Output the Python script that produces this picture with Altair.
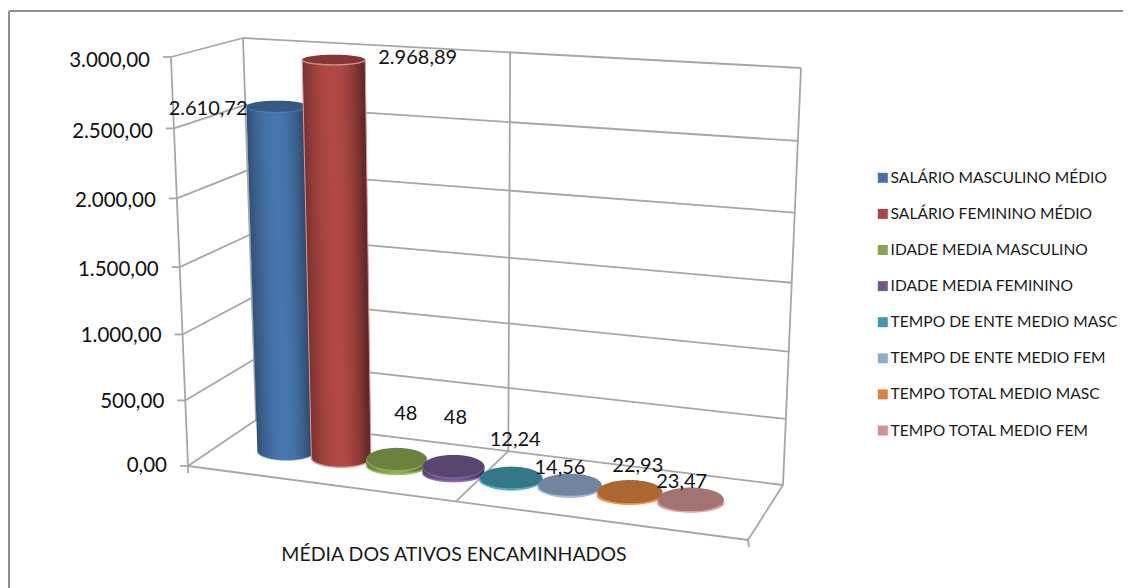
import math
import altair as alt
import pandas as pd

# ---- data
series = ["SALÁRIO MASCULINO MÉDIO", "SALÁRIO FEMININO MÉDIO", "IDADE MEDIA MASCULINO",
          "IDADE MEDIA FEMININO", "TEMPO DE ENTE MEDIO MASC", "TEMPO DE ENTE MEDIO FEM",
          "TEMPO TOTAL MEDIO MASC", "TEMPO TOTAL MEDIO FEM"]
values = [2610.72, 2968.89, 48, 48, 12.24, 14.56, 22.93, 23.47]
value_labels = ["2.610,72", "2.968,89", "48", "48", "12,24", "14,56", "22,93", "23,47"]
tick_values = [0, 500, 1000, 1500, 2000, 2500, 3000]
tick_labels = ["0,00", "500,00", "1.000,00", "1.500,00", "2.000,00", "2.500,00", "3.000,00"]
x_title = "MÉDIA DOS ATIVOS ENCAMINHADOS"

# ---- styles
colors = ["#4572a7", "#aa4643", "#89a54e", "#71588f", "#4198af", "#93a9cf", "#db843d", "#d19392"]
rims = ["#6a94c6", "#dc9a98", "#9dba62", "#8a6cab", "#5bb6cd", "#a9c0e6", "#f09a50", "#e0a8a6"]
grid = "#a6a6a6"
FONT = "Lato"
W, H = 1115, 580
label_offsets = [(-69, 3), (84, -2), (9, -45), (2, -48), (4, -38), (-10, -18), (8, -26), (-9, -18)]

# ---- perspective box of the 3D chart
FL0, FL1 = (188, 466), (171, 58)     # front-left edge
BL0, BL1 = (256, 420), (243, 38)     # back-left edge
BR0, BR1 = (783, 485), (801, 68)     # back-right edge
FR0 = (748, 540)                     # front-right floor corner
ML0, ML1 = (222, 443), (207, 48)     # mid-depth left
MR0, MR1 = (765.5, 512.5), (784.5, 81.5)


def lerp(a, b, t):
    return (a[0] + (b[0] - a[0]) * t, a[1] + (b[1] - a[1]) * t)


def warp(t, c):
    return t - c * t * (1 - t)


def frac(v):
    return warp(v / 3000, 0.06)


def col_geom(i, v):
    u0 = 0.5 + (i - 3.5) * 0.1062
    u = warp(u0, 0.085)
    f = frac(v)
    base = lerp(ML0, MR0, u)
    top = lerp(base, lerp(ML1, MR1, u), f)
    rx0 = 0.54 * (1 - 0.085 * (1 - 2 * u0)) * 0.1062 * 543.5
    rxt = rx0 * (1 + 0.06 * f)
    ryt = (11 + 1.5 * u) * (1 - f) + 5.0 * f
    return base, top, rx0, rxt, 9.0, ryt


def shade(hex_c, k):
    r, g, b = [int(hex_c[j:j + 2], 16) for j in (1, 3, 5)]
    m = lambda c: max(0, min(255, int(round(c * k))))
    return f"#{m(r):02x}{m(g):02x}{m(b):02x}"


X = lambda f="x": alt.X(f"{f}:Q", scale=alt.Scale(domain=[8, 8 + W], nice=False, zero=False), axis=None)
Y = lambda f="y": alt.Y(f"{f}:Q", scale=alt.Scale(domain=[8 + H, 8], nice=False, zero=False), axis=None)


def segs(rows, color=grid, width=1.8):
    df = pd.DataFrame(rows, columns=["x", "y", "x2", "y2"])
    return alt.Chart(df).mark_rule(color=color, strokeWidth=width).encode(
        x=X(), y=Y(), x2=alt.X2("x2"), y2=alt.Y2("y2"))


layers = []

# ---- outer frame
layers.append(segs([(9, 11, 8 + W, 11), (9, 11, 9, 8 + H)], "#8f8f8f", 2))

# ---- walls, floor and gridlines
rows = []
for tv in tick_values:
    f = frac(tv)
    a, b, c = lerp(FL0, FL1, f), lerp(BL0, BL1, f), lerp(BR0, BR1, f)
    a = (a[0], a[1] - 1 if tv else a[1])
    rows += [(a[0] - 8, a[1], a[0], a[1]), (a[0], a[1], b[0], b[1]), (b[0], b[1], c[0], c[1])]
rows += [FL0 + FL1, BL0 + BL1, BR0 + BR1, FL0 + FR0, BR0 + FR0,
         (FL0[0], FL0[1], FL0[0], FL0[1] + 7), (FR0[0], FR0[1], FR0[0] + 1, FR0[1] + 7)]
um = warp(0.5, 0.085)
mb, mt, mf = lerp(BL0, BR0, um), lerp(BL1, BR1, um), lerp(FL0, FR0, um)
rows += [mb + mt, mb + mf]
layers.append(segs(rows))

# ---- value axis labels
layers.append(alt.Chart(pd.DataFrame({
    "x": [lerp(FL0, FL1, frac(t))[0] - 21 for t in tick_values],
    "y": [lerp(FL0, FL1, frac(t))[1] + 3 * t / 3000 for t in tick_values],
    "t": tick_labels})).mark_text(align="right", baseline="middle", font=FONT, fontSize=20.5, color="#111111").encode(
    x=X(), y=Y(), text="t:N"))

# ---- cylinders, one at a time from left to right
SW = 3.0
for i, v in enumerate(values):
    base, top, rx0, rxt, ry0, ryt = col_geom(i, v)
    col = colors[i]

    m = 40
    ell = []
    for j in range(m + 1):
        t = -math.cos(math.pi * j / m)
        s = math.sqrt(max(0, 1 - t * t))
        ell.append({"o": j, "x": top[0] + rxt * t, "y": top[1] - ryt * s, "y2": top[1] + ryt * s,
                    "ly": top[1] + ryt * s, "bx": base[0] + rx0 * t, "by": base[1] + ry0 * s,
                    "ty": base[1] - ry0 * s})
    edf = pd.DataFrame(ell)
    # foot of the cylinder, under the strips
    layers.append(alt.Chart(edf).mark_area(color=shade(col, 0.9)).encode(x=X("bx"), y=Y("ty"), y2=alt.Y2("by")))

    n = int(2 * rx0)
    rows = []
    for j in range(n + 1):
        t = -1 + 2 * j / n
        s = math.sqrt(max(0, 1 - t * t))
        k = (1.04 - 0.32 * abs(t) ** 2) if t < 0 else (1.04 - 0.46 * t ** 2)
        rows.append({"x": top[0] + (rxt - SW / 2) * t, "y": top[1],
                     "x2": base[0] + (rx0 - SW / 2) * t, "y2": base[1] + ry0 * s - 0.5, "c": shade(col, k)})
    layers.append(alt.Chart(pd.DataFrame(rows)).mark_rule(strokeWidth=SW, strokeCap="butt").encode(
        x=X(), y=Y(), x2=alt.X2("x2"), y2=alt.Y2("y2"), stroke=alt.Stroke("c:N", scale=None)))

    layers.append(alt.Chart(edf).mark_area(color=shade(col, 0.78)).encode(x=X(), y=Y(), y2=alt.Y2("y2")))
    layers.append(alt.Chart(edf).mark_line(color=rims[i], strokeWidth=1.4 if i == 1 else 1.0, opacity=0.9 if i != 0 else 0.5).encode(
        x=X(), y=Y("ly"), order="o:Q"))
    layers.append(alt.Chart(edf).mark_line(color=rims[i], strokeWidth=1.6, opacity=0.9 if i != 0 else 0.4).encode(
        x=X("bx"), y=Y("by"), order="o:Q"))
    if i == 1:
        layers.append(segs([(top[0] - rxt, top[1], base[0] - rx0, base[1]),
                            (top[0] + rxt, top[1], base[0] + rx0, base[1])], rims[i], 1.0))

# ---- data labels
lab = []
for i, v in enumerate(values):
    _, top, *_ = col_geom(i, v)
    lab.append({"x": top[0] + label_offsets[i][0], "y": top[1] + label_offsets[i][1], "t": value_labels[i]})
layers.append(alt.Chart(pd.DataFrame(lab)).mark_text(align="center", baseline="middle", font=FONT, fontSize=20, color="#111111").encode(
    x=X(), y=Y(), text="t:N"))

# ---- category title
layers.append(alt.Chart(pd.DataFrame({"x": [454], "y": [555], "t": [x_title]})).mark_text(
    align="center", baseline="middle", font=FONT, fontSize=19.5, color="#1a1a1a").encode(x=X(), y=Y(), text="t:N"))

# ---- legend
legend_df = pd.DataFrame({"serie": series, "x": [454] * 8, "y": [300] * 8})
layers.append(alt.Chart(legend_df).mark_square(opacity=0, size=1).encode(
    x=X(), y=Y(),
    color=alt.Color("serie:N", scale=alt.Scale(domain=series, range=colors), sort=series,
                    legend=alt.Legend(orient="none", legendX=867, legendY=162, title=None,
                                      symbolType="square", symbolSize=100,
                                      symbolOpacity=1, labelFont=FONT, labelFontSize=15.6,
                                      labelColor="#1a1a1a", rowPadding=19.1, labelOffset=0, labelLimit=400))))

chart = alt.layer(*layers).properties(
    width=W, height=H, padding=0, background="white",
    autosize=alt.AutoSizeParams(type="none")
).configure_view(stroke=None)

chart.save("out.html", embed_options={"renderer": "svg", "actions": False})
